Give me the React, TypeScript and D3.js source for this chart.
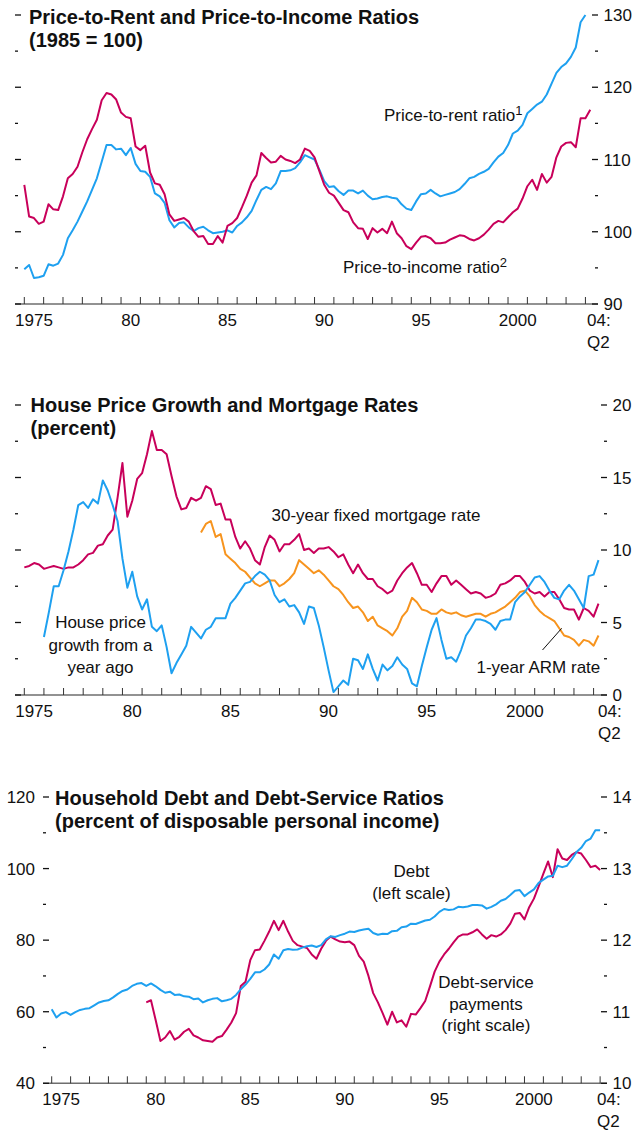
import React from "react";
import * as d3 from "d3";

// ---------- DATA (quarterly) ----------
const FIRST_YEAR = 1975;
const yearLabelYears = [1975, 1980, 1985, 1990, 1995, 2000];
const yearLabels = ["1975", "80", "85", "90", "95", "2000"];

// Panel 1 (1985 = 100), from 1975Q1
const priceToRent = [94.8,95.4,93.6,93.7,93.9,95.5,95.3,95.6,96.8,99.1,
100.2,101.4,102.8,104.2,105.8,107.4,109.7,112.0,112.0,111.4,
111.5,110.6,111.6,109.4,108.4,108.3,107.6,105.3,104.9,104.0,
101.6,100.6,101.2,101.3,100.6,100.1,100.5,100.7,100.2,99.8,
99.9,100.0,100.2,99.9,100.8,101.3,102.0,102.9,104.4,105.8,
106.2,105.9,106.7,108.4,108.4,108.5,108.8,109.6,110.6,110.3,
110.0,108.6,107.0,106.2,106.3,105.6,105.1,105.7,105.7,105.3,
105.7,105.0,104.5,104.6,104.8,104.9,104.7,104.6,103.8,103.2,
103.0,104.2,105.2,105.3,105.8,105.3,104.9,105.1,105.3,105.5,
105.9,106.6,107.4,107.6,108.0,108.3,108.7,109.6,110.4,110.9,
112.0,113.6,114.0,114.8,116.4,117.0,117.6,118.0,119.0,120.5,
122.0,122.8,123.3,124.2,125.5,129.0,130.0];
const priceToIncome = [106.5,102.1,101.9,101.1,101.4,103.8,103.1,103.0,104.9,107.4,
108.0,109.0,111.0,112.8,114.2,115.5,118.2,119.2,119.0,118.3,
116.5,115.9,115.7,111.8,111.3,111.9,108.2,106.7,106.5,105.2,
102.4,101.5,101.7,101.9,101.4,100.1,99.3,99.4,98.3,98.3,
99.4,98.5,100.8,101.2,101.9,103.4,105.0,106.8,107.8,110.9,
110.2,109.6,109.7,110.5,110.0,109.8,109.5,110.0,111.5,111.2,
110.3,108.4,106.5,105.4,105.0,104.0,103.0,102.7,101.3,100.5,
100.4,99.0,100.5,99.9,100.4,99.8,101.4,99.8,99.1,98.0,
97.6,98.5,99.3,99.4,99.1,98.4,98.4,98.5,98.9,99.2,
99.5,99.4,99.0,98.8,99.1,99.6,100.3,101.1,101.5,101.3,
102.0,102.7,103.2,104.6,106.3,107.2,105.8,108.0,106.8,107.6,
110.3,111.8,112.3,112.4,111.7,115.7,115.7,116.9];

// Panel 2 (percent)
const housePriceGrowthStart = 1976; // 1976Q1
const housePriceGrowth = [4.0,5.7,7.5,7.5,8.6,9.9,11.4,13.1,13.3,12.9,
13.5,13.2,14.8,14.1,13.1,12.0,9.4,7.4,8.5,6.8,
5.9,6.6,4.7,4.4,4.8,3.3,1.5,2.2,2.8,3.4,
4.7,4.3,3.9,4.5,4.7,5.3,5.3,5.3,6.3,6.7,
7.2,7.7,7.8,8.2,8.5,8.3,7.9,6.9,6.4,6.6,
6.1,6.2,5.7,4.9,6.1,6.0,4.8,3.3,1.7,0.2,
0.6,1.0,0.7,2.5,2.4,1.8,2.8,1.8,1.0,2.1,
1.7,2.0,2.6,2.1,1.8,0.8,0.6,2.0,3.3,4.5,
5.3,3.8,2.5,2.6,2.3,3.1,4.1,4.6,5.2,5.2,
5.1,4.9,4.5,5.1,5.2,5.2,6.4,6.8,7.1,7.6,
8.1,8.2,7.8,7.2,6.7,6.6,7.2,7.6,7.2,6.6,
6.0,8.2,8.3,9.3];
const fixedRate30 = [8.8,8.9,9.1,9.0,8.7,8.8,8.9,8.8,8.7,8.8,
8.8,9.0,9.3,9.7,9.8,10.3,10.4,11.0,11.4,13.6,
16.0,12.3,13.4,14.9,15.3,16.6,18.2,16.9,16.9,16.6,
15.1,13.7,12.8,12.9,13.6,13.4,13.6,14.4,14.2,13.1,
13.2,12.1,12.1,10.9,10.1,10.6,10.1,9.3,9.0,10.2,
11.0,10.7,9.9,10.4,10.4,10.7,11.1,10.0,10.1,9.8,
10.1,10.1,10.2,9.9,9.5,9.7,9.0,8.4,9.0,8.4,
8.0,8.0,7.5,7.3,7.0,7.2,7.9,8.4,8.8,9.1,
8.4,7.6,7.6,7.1,7.7,8.2,8.2,7.6,7.9,7.6,
7.3,7.0,7.1,7.0,6.7,6.8,7.0,7.6,7.7,7.9,
8.2,8.2,7.8,7.2,7.0,7.1,6.8,7.1,7.1,6.6,
6.0,5.9,5.9,5.2,6.0,5.8,5.4,6.3];
const armRateStart = 1984; // 1984Q1
const armRate1 = [11.2,11.8,12.0,10.9,11.1,9.7,9.4,9.1,8.7,8.5,
8.1,7.7,7.5,7.7,7.9,7.9,7.5,7.7,8.0,8.4,
9.3,9.0,8.7,8.4,8.6,8.3,7.9,7.5,7.3,6.9,
6.4,6.0,6.1,5.7,5.1,5.4,4.8,4.6,4.4,4.1,
4.6,5.4,5.8,6.7,6.4,5.9,5.8,5.6,5.6,5.9,
5.7,5.6,5.7,5.5,5.4,5.5,5.6,5.6,5.4,5.6,
5.7,5.9,6.1,6.4,6.7,7.1,7.2,6.8,6.2,5.8,
5.5,5.3,5.1,4.6,4.1,4.0,3.8,3.4,3.8,3.7,
3.4,4.1];

// Panel 3 (percent of disposable personal income)
const debtRatio = [60.7,58.4,59.5,59.9,59.1,59.9,60.5,60.8,61.0,61.8,
62.6,63.0,63.2,64.0,65.0,65.8,66.2,67.2,67.8,68.0,
67.2,67.9,67.1,66.1,65.3,65.6,64.7,64.8,64.3,64.2,
63.5,63.7,62.6,63.2,63.6,63.8,62.9,63.2,63.6,64.7,
66.3,67.6,69.2,71.0,71.0,71.8,73.2,76.0,74.8,77.2,
77.5,77.3,77.4,77.9,78.3,78.5,78.1,78.6,80.2,81.1,
80.9,81.4,81.8,82.4,82.3,82.7,83.0,83.2,82.0,81.5,
81.8,81.7,82.5,82.6,83.6,83.8,84.6,84.5,85.0,85.5,
85.7,86.6,87.9,88.7,88.4,88.6,89.3,89.2,89.4,89.8,
89.8,89.7,88.8,89.3,90.0,91.0,91.5,92.6,93.8,94.0,
92.3,93.3,94.2,96.0,96.9,97.8,98.0,100.8,100.4,100.8,
102.6,104.6,105.8,107.7,108.4,110.7,110.7];
const debtServiceStart = 1980; // 1980Q1
const debtService = [11.13,11.16,10.88,10.59,10.64,10.73,10.61,10.65,10.72,10.76,
10.67,10.64,10.60,10.59,10.58,10.64,10.66,10.75,10.85,10.98,
11.36,11.42,11.72,11.86,11.87,11.99,12.12,12.27,12.14,12.27,
12.12,11.99,11.93,11.91,11.89,11.80,11.74,11.88,11.99,12.05,
12.01,11.98,11.97,11.98,11.93,11.78,11.70,11.50,11.26,11.13,
10.98,10.82,11.00,10.85,10.88,10.79,10.97,10.96,11.05,11.15,
11.35,11.56,11.70,11.80,11.88,11.97,12.05,12.08,12.08,12.11,
12.15,12.08,12.02,12.07,12.05,12.08,12.14,12.23,12.37,12.38,
12.29,12.46,12.58,12.75,12.93,13.10,12.88,13.27,13.14,13.12,
13.19,13.23,13.21,13.12,13.02,13.04,12.98];

// ---------- STYLE ----------
const BLUE = "#1ea0f0";
const MAGENTA = "#c8005a";
const ORANGE = "#f7941e";
const FONT = "'Liberation Sans', Arial, sans-serif";
const TITLE_FONT = "'Liberation Sans Narrow', 'Liberation Sans', Arial, sans-serif";
const FS = 17;

type Series = { values: number[]; start: number; color: string; side: "left" | "right" };
type Cfg = {
  xDomain: [number, number];
  xRange: [number, number];
  baseY: number;
  topY: number;
  rightDomain: [number, number];
  rightStep: number;
  leftDomain: [number, number];
  leftStep: number;
  leftLabels: boolean;
  leftTickX: number;
  rightTickEnd: number;
  q2X: number;
  series: Series[];
};

function Panel({ cfg, children }: { cfg: Cfg; children?: React.ReactNode }) {
  const x = d3.scaleLinear().domain(cfg.xDomain).range(cfg.xRange);
  const yR = d3.scaleLinear().domain(cfg.rightDomain).range([cfg.baseY, cfg.topY]);
  const yL = d3.scaleLinear().domain(cfg.leftDomain).range([cfg.baseY, cfg.topY]);
  const rightTicks = d3.range(cfg.rightDomain[0], cfg.rightDomain[1] + 1e-9, cfg.rightStep / 2);
  const leftTicks = d3.range(cfg.leftDomain[0], cfg.leftDomain[1] + 1e-9, cfg.leftStep / 2);
  const years = d3.range(FIRST_YEAR, 2005);
  const isMajor = (v: number, d0: number, step: number) => Math.abs(((v - d0) / step) - Math.round((v - d0) / step)) < 1e-6;

  return (
    <g>
      {/* baseline */}
      <line x1={cfg.leftTickX} x2={cfg.rightTickEnd} y1={cfg.baseY} y2={cfg.baseY} stroke="#6e6e6e" strokeWidth={1.6} />
      {/* year ticks */}
      {years.map((yr) => (
        <line key={yr} x1={x(yr)} x2={x(yr)} y1={cfg.baseY} y2={cfg.baseY - 7} stroke="#333" strokeWidth={1} />
      ))}
      {/* year labels */}
      {yearLabelYears.map((yr, i) => (
        <text key={yr} x={x(yr + 0.5)} y={cfg.baseY + 22} textAnchor="middle" fontSize={FS} fill="#111">
          {yearLabels[i]}
        </text>
      ))}
      <text x={cfg.q2X} y={cfg.baseY + 22} fontSize={FS} fill="#111">04:</text>
      <text x={cfg.q2X} y={cfg.baseY + 44} fontSize={FS} fill="#111">Q2</text>
      {/* right ticks */}
      {rightTicks.map((v) => {
        const maj = isMajor(v, cfg.rightDomain[0], cfg.rightStep);
        return (
          <g key={"r" + v}>
            <line x1={cfg.rightTickEnd - (maj ? 6 : 3)} x2={cfg.rightTickEnd} y1={yR(v)} y2={yR(v)} stroke="#111" strokeWidth={1.3} />
            {maj && (
              <text x={cfg.rightTickEnd + 5.5} y={yR(v)} dy="0.36em" fontSize={FS} fill="#111">{v}</text>
            )}
          </g>
        );
      })}
      {/* left ticks */}
      {leftTicks.map((v) => {
        const maj = isMajor(v, cfg.leftDomain[0], cfg.leftStep);
        return (
          <g key={"l" + v}>
            <line x1={cfg.leftTickX} x2={cfg.leftTickX + (maj ? 6 : 3)} y1={yL(v)} y2={yL(v)} stroke="#111" strokeWidth={1.3} />
            {maj && cfg.leftLabels && (
              <text x={cfg.leftTickX - 8} y={yL(v)} dy="0.36em" textAnchor="end" fontSize={FS} fill="#111">{v}</text>
            )}
          </g>
        );
      })}
      {/* series */}
      {cfg.series.map((s, k) => {
        const yy = s.side === "left" ? yL : yR;
        const pts = s.values.map((v, i) => ({ t: s.start + i / 4, v }));
        const line = d3.line<{ t: number; v: number }>().x((d) => x(d.t)).y((d) => yy(d.v));
        return <path key={k} d={line(pts) || ""} fill="none" stroke={s.color} strokeWidth={2} strokeLinejoin="round" />;
      })}
      {children}
    </g>
  );
}

const p1: Cfg = {
  xDomain: [1975, 2004.5], xRange: [24.3, 595.1],
  baseY: 304, topY: 15,
  rightDomain: [90, 130], rightStep: 10,
  leftDomain: [90, 130], leftStep: 10, leftLabels: false,
  leftTickX: 15, rightTickEnd: 598, q2X: 587,
  series: [
    { values: priceToRent, start: FIRST_YEAR, color: BLUE, side: "right" },
    { values: priceToIncome, start: FIRST_YEAR, color: MAGENTA, side: "right" },
  ],
};

const p2: Cfg = {
  xDomain: [1975, 2004.5], xRange: [24.3, 603.4],
  baseY: 695, topY: 405,
  rightDomain: [0, 20], rightStep: 5,
  leftDomain: [0, 20], leftStep: 5, leftLabels: false,
  leftTickX: 15, rightTickEnd: 607, q2X: 598,
  series: [
    { values: fixedRate30, start: FIRST_YEAR, color: MAGENTA, side: "right" },
    { values: armRate1, start: armRateStart, color: ORANGE, side: "right" },
    { values: housePriceGrowth, start: housePriceGrowthStart, color: BLUE, side: "right" },
  ],
};

const p3: Cfg = {
  xDomain: [1975, 2004.2], xRange: [51.7, 603.9],
  baseY: 1083.3, topY: 797,
  rightDomain: [10, 14], rightStep: 1,
  leftDomain: [40, 120], leftStep: 20, leftLabels: true,
  leftTickX: 43, rightTickEnd: 607, q2X: 597,
  series: [
    { values: debtService, start: debtServiceStart, color: MAGENTA, side: "right" },
    { values: debtRatio, start: FIRST_YEAR, color: BLUE, side: "left" },
  ],
};

function Title({ x, y, lines }: { x: number; y: number; lines: string[] }) {
  return (
    <g fontFamily={TITLE_FONT} fontWeight="bold" fontSize={20} fill="#111">
      {lines.map((l, i) => (
        <text key={i} x={x} y={y + i * 23}>{l}</text>
      ))}
    </g>
  );
}

export default function App() {
  return (
    <svg
      width={636}
      height={1132}
      style={{ position: "absolute", left: 0, top: 0, background: "#fff" }}
      fontFamily={FONT}
    >
      <rect width={636} height={1132} fill="#fff" />
      <Panel cfg={p1}>
        <Title x={29} y={24} lines={["Price-to-Rent and Price-to-Income Ratios", "(1985 = 100)"]} />
        <text x={384} y={120.5} fontSize={FS} fill="#111">
          Price-to-rent ratio<tspan fontSize={13} dy={-6}>1</tspan>
        </text>
        <text x={343} y={273} fontSize={FS} fill="#111">
          Price-to-income ratio<tspan fontSize={13} dy={-6}>2</tspan>
        </text>
      </Panel>
      <Panel cfg={p2}>
        <Title x={30.5} y={412} lines={["House Price Growth and Mortgage Rates", "(percent)"]} />
        <text x={271.5} y={521} fontSize={FS} fill="#111">30-year fixed mortgage rate</text>
        <g fontSize={FS} fill="#111" textAnchor="middle">
          <text x={100.5} y={628}>House price</text>
          <text x={100.5} y={651}>growth from a</text>
          <text x={100.5} y={673}>year ago</text>
        </g>
        <line x1={542.5} y1={650} x2={561.7} y2={628.3} stroke="#111" strokeWidth={1} />
        <text x={476.5} y={673} fontSize={FS} fill="#111">1-year ARM rate</text>
      </Panel>
      <Panel cfg={p3}>
        <Title x={55} y={805} lines={["Household Debt and Debt-Service Ratios", "(percent of disposable personal income)"]} />
        <g fontSize={FS} fill="#111" textAnchor="middle">
          <text x={411.5} y={877}>Debt</text>
          <text x={411.5} y={899}>(left scale)</text>
          <text x={486} y={988}>Debt-service</text>
          <text x={486} y={1010}>payments</text>
          <text x={486} y={1031}>(right scale)</text>
        </g>
      </Panel>
    </svg>
  );
}
